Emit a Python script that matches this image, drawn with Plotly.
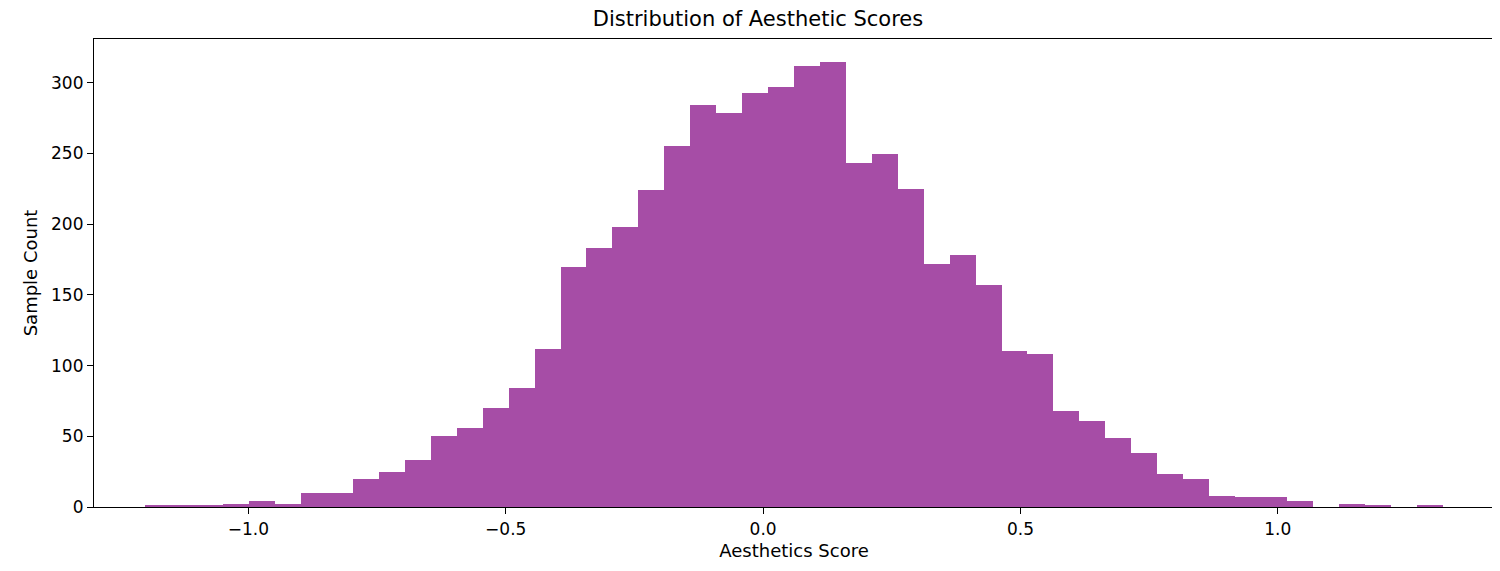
import numpy as np
import plotly.graph_objects as go

# histogram counts, 50 equal bins
bin_start = -1.2
bin_end = 1.32
counts = [1, 1, 1, 2, 4, 2, 10, 10, 20, 25, 33, 50, 56, 70, 84, 112, 170, 183,
          198, 224, 255, 284, 279, 293, 297, 312, 315,
          243, 250, 225, 172, 178, 157, 110, 108, 68, 61, 49, 38, 23, 20, 8, 7,
          7, 4, 0, 2, 1, 0, 1]

edges = np.linspace(bin_start, bin_end, len(counts) + 1)
centers = (edges[:-1] + edges[1:]) / 2
width = edges[1] - edges[0]

fig = go.Figure(go.Bar(x=centers, y=counts, width=width,
                       marker_color="#A64DA6", marker_line_width=0,
                       hoverinfo="x+y"))

axis_style = dict(showline=True, linecolor="black", linewidth=1.2, mirror=True,
                  ticks="outside", ticklen=6, tickcolor="black", showgrid=False,
                  zeroline=False, tickfont=dict(size=17, color="black"))

fig.update_layout(
    title=dict(text="Distribution of Aesthetic Scores", x=0.5, xanchor="center",
               y=0.995, yanchor="top", font=dict(size=21, color="black")),
    font=dict(family="DejaVu Sans", color="black"),
    plot_bgcolor="white", paper_bgcolor="white",
    bargap=0, showlegend=False,
    margin=dict(l=86, r=14, t=31, b=72),
    width=1500, height=571,
)
fig.update_xaxes(range=[-1.30, 1.42], tickvals=[-1.0, -0.5, 0.0, 0.5, 1.0],
                 ticktext=["\u22121.0", "\u22120.5", "0.0", "0.5", "1.0"],
                 title=dict(text="Aesthetics Score", font=dict(size=18), standoff=6),
                 **axis_style)
fig.update_yaxes(range=[0, 331], tickvals=[0, 50, 100, 150, 200, 250, 300],
                 title=dict(text="Sample Count", font=dict(size=18), standoff=8),
                 **axis_style)

fig.write_html("out.html")
